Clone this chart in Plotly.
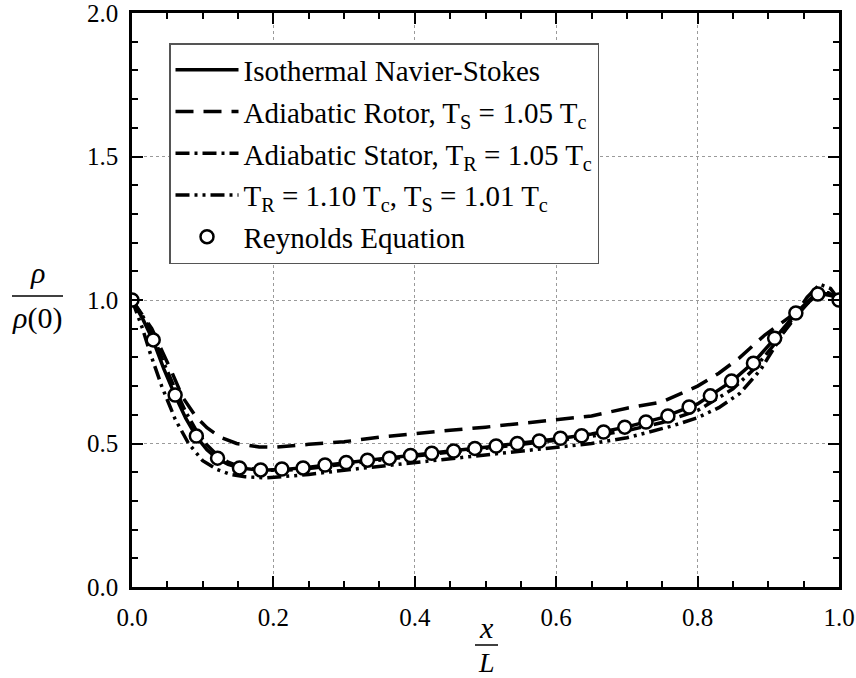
import plotly.graph_objects as go

# ---------------- data ----------------
x_rey = [0.000, 0.030, 0.061, 0.091, 0.121, 0.152, 0.182, 0.212, 0.242, 0.273,
         0.303, 0.333, 0.364, 0.394, 0.424, 0.455, 0.485, 0.515, 0.545, 0.576,
         0.606, 0.636, 0.667, 0.697, 0.727, 0.758, 0.788, 0.818, 0.848, 0.879,
         0.909, 0.939, 0.970, 1.000]
rho_rey = [1.000, 0.861, 0.669, 0.526, 0.449, 0.415, 0.408, 0.411, 0.415, 0.425,
           0.434, 0.442, 0.449, 0.458, 0.466, 0.474, 0.483, 0.491, 0.500, 0.509,
           0.518, 0.527, 0.540, 0.557, 0.575, 0.596, 0.627, 0.666, 0.718, 0.780,
           0.867, 0.955, 1.021, 1.000]

x_ns = [0.0, 0.015, 0.03, 0.045, 0.061, 0.076, 0.091, 0.106, 0.121, 0.136, 0.152,
        0.182, 0.212, 0.25, 0.3, 0.35, 0.4, 0.45, 0.5, 0.55, 0.6, 0.65, 0.7, 0.75,
        0.8, 0.85, 0.88, 0.91, 0.94, 0.96, 0.975, 0.99, 1.0]
rho_ns = [1.0, 0.935, 0.858, 0.76, 0.667, 0.588, 0.524, 0.478, 0.447, 0.427, 0.415,
          0.407, 0.409, 0.417, 0.432, 0.447, 0.46, 0.474, 0.487, 0.501, 0.516, 0.533,
          0.558, 0.59, 0.638, 0.72, 0.785, 0.868, 0.957, 1.005, 1.025, 1.018, 1.0]

x_rot = [0.0, 0.028, 0.057, 0.072, 0.09, 0.106, 0.125, 0.148, 0.18, 0.2, 0.25, 0.3,
         0.35, 0.4, 0.45, 0.5, 0.55, 0.6, 0.65, 0.7, 0.75, 0.8, 0.83, 0.86, 0.895,
         0.928, 0.956, 0.972, 0.985, 1.0]
rho_rot = [1.0, 0.9, 0.745, 0.66, 0.595, 0.555, 0.522, 0.5, 0.488, 0.487, 0.497,
           0.506, 0.522, 0.535, 0.546, 0.557, 0.57, 0.58, 0.596, 0.623, 0.645, 0.70,
           0.745, 0.80, 0.878, 0.937, 0.99, 1.025, 1.025, 1.0]

x_sta = [0.0, 0.015, 0.03, 0.045, 0.061, 0.076, 0.091, 0.106, 0.121, 0.136, 0.152,
         0.182, 0.212, 0.25, 0.3, 0.35, 0.4, 0.45, 0.5, 0.55, 0.6, 0.65, 0.7, 0.75,
         0.8, 0.85, 0.88, 0.91, 0.94, 0.96, 0.975, 0.99, 1.0]
rho_sta = [1.0, 0.945, 0.875, 0.78, 0.69, 0.61, 0.545, 0.495, 0.458, 0.435, 0.42,
           0.407, 0.406, 0.413, 0.428, 0.443, 0.456, 0.47, 0.483, 0.497, 0.51, 0.525,
           0.545, 0.573, 0.615, 0.69, 0.76, 0.85, 0.945, 1.0, 1.022, 1.015, 1.0]

x_mix = [0.0, 0.015, 0.025, 0.042, 0.061, 0.08, 0.1, 0.12, 0.14, 0.16, 0.19, 0.22,
         0.25, 0.3, 0.35, 0.4, 0.45, 0.5, 0.55, 0.6, 0.65, 0.7, 0.733, 0.764, 0.8,
         0.83, 0.86, 0.89, 0.928, 0.955, 0.973, 0.988, 1.0]
rho_mix = [1.0, 0.9, 0.82, 0.70, 0.585, 0.50, 0.44, 0.41, 0.392, 0.384, 0.38, 0.385,
           0.392, 0.407, 0.42, 0.434, 0.447, 0.46, 0.472, 0.486, 0.5, 0.52, 0.54,
           0.561, 0.59, 0.625, 0.675, 0.76, 0.913, 1.01, 1.055, 1.04, 1.0]

names = ["Isothermal Navier-Stokes",
         "Adiabatic Rotor, T<sub>S</sub> = 1.05 T<sub>c</sub>",
         "Adiabatic Stator, T<sub>R</sub> = 1.05 T<sub>c</sub>",
         "T<sub>R</sub> = 1.10 T<sub>c</sub>, T<sub>S</sub> = 1.01 T<sub>c</sub>",
         "Reynolds Equation"]

x_ticks = [0.0, 0.2, 0.4, 0.6, 0.8, 1.0]
y_ticks = [0.0, 0.5, 1.0, 1.5, 2.0]

# ---------------- layout helpers ----------------
W, H = 856, 678
L, R, T, B = 132, 17, 13, 91
PW, PH = W - L - R, H - T - B


def px_x(p):
    return (p - L) / PW


def px_y(p):
    return (H - B - p) / PH


FONT = "Liberation Serif, Times New Roman, Times, serif"
LW = 3.5

fig = go.Figure()
fig.add_trace(go.Scatter(x=x_ns, y=rho_ns, mode="lines", name=names[0],
                         line=dict(color="black", width=LW), legendgroup="a"))
fig.add_trace(go.Scatter(x=x_rot, y=rho_rot, mode="lines", name=names[1],
                         line=dict(color="black", width=LW, dash="18px,10px"),
                         legendgroup="b"))
fig.add_trace(go.Scatter(x=x_sta, y=rho_sta, mode="lines", name=names[2],
                         line=dict(color="black", width=LW, dash="14px,5px,3px,5px"),
                         legendgroup="c"))
fig.add_trace(go.Scatter(x=x_mix, y=rho_mix, mode="lines", name=names[3],
                         line=dict(color="black", width=LW,
                                   dash="14px,5px,3px,5px,3px,5px"),
                         legendgroup="d"))
fig.add_trace(go.Scatter(x=x_rey, y=rho_rey, mode="markers", name=names[4],
                         marker=dict(symbol="circle", size=13, color="white",
                                     line=dict(color="black", width=2.5)),
                         legendgroup="e"))

axis_common = dict(
    showline=True, linecolor="black", linewidth=2.5, mirror="allticks",
    ticks="inside", tickcolor="black", tickwidth=2, ticklen=11,
    showgrid=True, gridcolor="#9a9a9a", gridwidth=1, griddash="dot",
    zeroline=False, tickfont=dict(family=FONT, size=25, color="black"),
    tickformat=".1f", automargin=False, ticklabeloverflow="allow",
)

fig.update_xaxes(range=[0, 1], tickvals=x_ticks, **axis_common,
                 minor=dict(dtick=0.05, ticks="inside", ticklen=6, tickwidth=2,
                            tickcolor="black", showgrid=False),
                 ticklabelstandoff=6)
fig.update_yaxes(range=[0, 2], tickvals=y_ticks, **axis_common,
                 minor=dict(dtick=0.1, ticks="inside", ticklen=6, tickwidth=2,
                            tickcolor="black", showgrid=False),
                 ticklabelstandoff=6)

ann_font = dict(family=FONT, size=30, color="black")
annotations = [
    dict(x=px_x(37), y=px_y(272), text="<i>ρ</i>"),
    dict(x=px_x(37), y=px_y(318), text="<i>ρ</i>(0)"),
    dict(x=px_x(486), y=px_y(627), text="<i>x</i>"),
    dict(x=px_x(486), y=px_y(662), text="<i>L</i>", font=dict(family=FONT, size=28, color="black")),
]
for a in annotations:
    a.setdefault("font", ann_font)
    a.update(xref="paper", yref="paper", showarrow=False,
             xanchor="center", yanchor="middle")

shapes = [
    dict(type="line", xref="paper", yref="paper", x0=px_x(12), x1=px_x(63),
         y0=px_y(296), y1=px_y(296), line=dict(color="black", width=1.5)),
    dict(type="line", xref="paper", yref="paper", x0=px_x(475), x1=px_x(498),
         y0=px_y(645), y1=px_y(645), line=dict(color="black", width=1.5)),
]

fig.update_layout(
    width=W, height=H, autosize=False,
    margin=dict(l=L, r=R, t=T, b=B, pad=0, autoexpand=False),
    paper_bgcolor="white", plot_bgcolor="white",
    font=dict(family=FONT, color="black"),
    annotations=annotations, shapes=shapes,
    legend=dict(x=px_x(169), y=px_y(43), xanchor="left", yanchor="top",
                bgcolor="white", bordercolor="#555555", borderwidth=1.5,
                font=dict(family=FONT, size=29, color="black"),
                itemwidth=63, traceorder="grouped", tracegroupgap=1),
)

fig.write_html("out.html")
